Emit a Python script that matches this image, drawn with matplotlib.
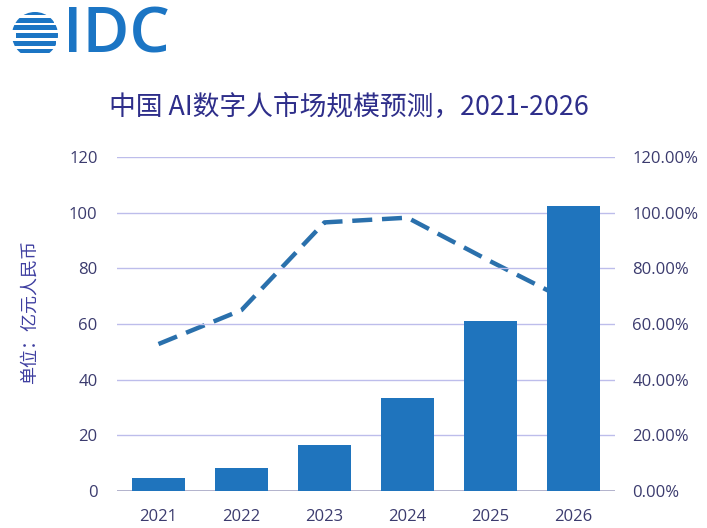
import matplotlib
matplotlib.use("Agg")
import matplotlib.pyplot as plt
from matplotlib.patches import Circle, Rectangle
from matplotlib.ticker import PercentFormatter, MultipleLocator

plt.rcParams['font.family'] = ['Noto Sans CJK SC', 'DejaVu Sans']

years = ['2021', '2022', '2023', '2024', '2025', '2026']
market = [4.8, 8.2, 16.5, 33.3, 61.1, 102.4]          # 亿元人民币
growth = [52.8, 65.0, 96.5, 98.2, 82.5, 67.4]          # %

title = '中国 AI数字人市场规模预测，2021-2026'
ylabel = '单位：亿元人民币'

bar_color = '#1F74BD'
line_color = '#2A70AC'
grid_color = '#BDBDEB'
tick_color = '#3B3B6E'

fig = plt.figure(figsize=(7.07, 5.28), dpi=100)
ax = fig.add_axes([117/707, 1-491/528, 498/707, 334/528])
ax2 = ax.twinx()

x = list(range(len(years)))
ax2.plot(x, growth, color=line_color, lw=3.2, ls=(0, (4.5, 2.2)),
         solid_capstyle='butt', dash_capstyle='butt')
ax.bar(x, market, width=0.64, color=bar_color, zorder=3)

ax.set_zorder(ax2.get_zorder() + 1)
ax.patch.set_visible(False)

ax.set_xlim(-0.5, len(years) - 0.5)
ax.set_ylim(0, 120)
ax2.set_ylim(0, 120)
ax.yaxis.set_major_locator(MultipleLocator(20))
ax2.yaxis.set_major_locator(MultipleLocator(20))
ax2.yaxis.set_major_formatter(PercentFormatter(decimals=2))

ax.set_xticks(x)
ax.set_xticklabels(years)
ax.grid(axis='y', color=grid_color, lw=1.0, zorder=0)
ax.set_axisbelow(True)

for a in (ax, ax2):
    for s in a.spines.values():
        s.set_visible(False)
    a.tick_params(length=0, labelsize=12, labelcolor=tick_color)
    for lab in a.get_xticklabels() + a.get_yticklabels():
        lab.set_family(['Open Sans', 'DejaVu Sans'])
ax.tick_params(axis='x', pad=13)
ax.tick_params(axis='y', pad=14)
ax2.tick_params(axis='y', pad=12.5)
ax.axhline(0, color='#A8A8C4', lw=1.2, zorder=1)

ax.set_ylabel(ylabel, color='#3E3EA0', fontsize=13)
ax.yaxis.set_label_coords(-0.157, 0.536)

fig.text(0.5 * (107 + 590) / 707, 1 - 107/528, title, ha='center', va='center',
         fontsize=19.3, color='#2E2E8A')

# IDC logo
logo_color = '#1B75C4'
lax = fig.add_axes([0, 1 - 70/528, 200/707, 70/528])
lax.set_xlim(0, 200)
lax.set_ylim(70, 0)
lax.axis('off')
circ = Circle((35, 35), 23, transform=lax.transData, facecolor='none', edgecolor='none')
lax.add_patch(circ)
stripes = [(13, 4.5), (20, 5.0), (27.5, 5.5), (35.5, 5.5), (43.5, 5.0), (51, 4.5)]
offs = [0, -6, 0, 6, -4, 0]
for (yy, h), o in zip(stripes, offs):
    r = Rectangle((10 + o, yy - h/2), 50, h, facecolor=logo_color, edgecolor='none')
    lax.add_patch(r)
    r.set_clip_path(circ)
lax.text(63, 36, 'IDC', fontsize=46, fontweight='semibold', color=logo_color,
         ha='left', va='center', family=['Open Sans', 'DejaVu Sans'])

fig.savefig('out.png', dpi=100, facecolor='white')
